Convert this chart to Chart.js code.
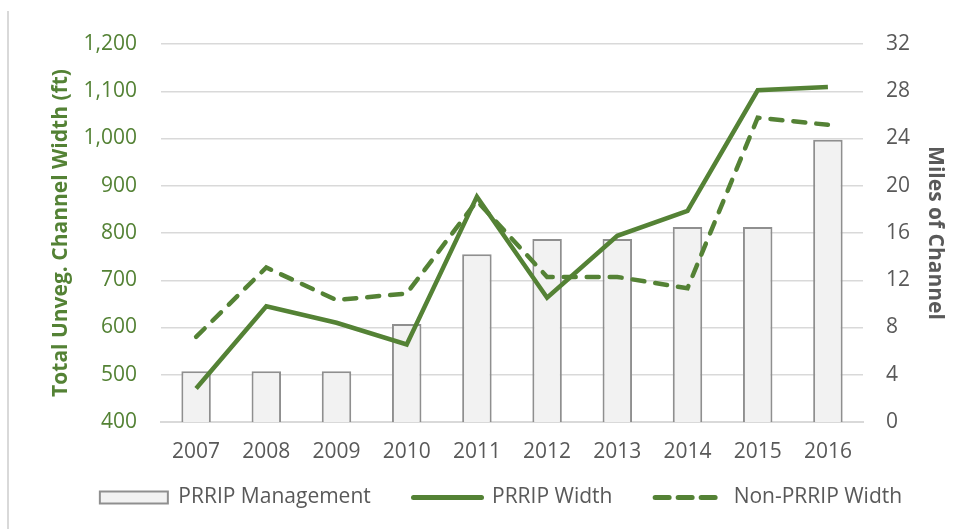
<!DOCTYPE html>
<html>
<head>
<meta charset="utf-8">
<script src="https://cdn.jsdelivr.net/npm/chart.js@4/dist/chart.umd.min.js"></script>
<style>
  html, body { margin: 0; padding: 0; background: #fff; }
  #wrap { position: relative; width: 972px; height: 529px; }
  #edge { position: absolute; left: 7px; top: 11px; width: 2px; bottom: 0; background: #d9d9d9; }
</style>
</head>
<body>
<div id="wrap">
  <div id="edge"></div>
  <canvas id="chart" width="972" height="529"></canvas>
</div>
<script>
const years = ['2007', '2008', '2009', '2010', '2011', '2012', '2013', '2014', '2015', '2016'];
// miles of channel under management (right axis)
const managementMiles = [4.3, 4.3, 4.3, 8.3, 14.2, 15.5, 15.5, 16.5, 16.5, 23.9];
// total unvegetated channel width, ft (left axis)
const prripWidth = [471, 645, 610, 564, 877, 663, 794, 847, 1102, 1109];
const nonPrripWidth = [580, 727, 658, 672, 868, 707, 707, 683, 1044, 1029];

const GREEN = '#548235';
const GREY_TEXT = '#595959';
const FONT = '"Open Sans", "Noto Sans", sans-serif';
const FS = 21;

const ctx = document.getElementById('chart').getContext('2d');

// legend: keep dataset order, put the dash back on the dashed line, widen gaps
function legendLabels(chart) {
    const items = Chart.defaults.plugins.legend.labels.generateLabels(chart);
    items.sort((a, b) => a.datasetIndex - b.datasetIndex);
    items.forEach((item, i) => {
        const ds = chart.data.datasets[item.datasetIndex];
        if (ds.type === 'line') {
            item.lineWidth = 5;
            item.lineCap = 'round';
            item.lineDash = ds.borderDash ? [14, 9] : [];
        }
        if (i < items.length - 1) {
            item.text = item.text + '      ';
        }
    });
    return items;
}

new Chart(ctx, {
    data: {
        labels: years,
        datasets: [
            {
                type: 'bar',
                label: 'PRRIP Management',
                data: managementMiles,
                yAxisID: 'yRight',
                backgroundColor: '#f2f2f2',
                borderColor: '#8f8f8f',
                borderWidth: 2,
                barPercentage: 0.42,
                categoryPercentage: 1,
                pointStyle: 'rect',
                order: 2
            },
            {
                type: 'line',
                label: 'PRRIP Width',
                data: prripWidth,
                yAxisID: 'yLeft',
                borderColor: GREEN,
                backgroundColor: GREEN,
                borderWidth: 4.5,
                pointRadius: 0,
                pointStyle: 'line',
                tension: 0,
                order: 1
            },
            {
                type: 'line',
                label: 'Non-PRRIP Width',
                data: nonPrripWidth,
                yAxisID: 'yLeft',
                borderColor: GREEN,
                backgroundColor: GREEN,
                borderWidth: 4.5,
                borderDash: [12, 11],
                borderCapStyle: 'round',
                pointRadius: 0,
                pointStyle: 'line',
                tension: 0,
                order: 1
            }
        ]
    },
    options: {
        responsive: false,
        animation: false,
        layout: { padding: { top: 44, bottom: 11, left: 30, right: 0 } },
        plugins: {
            tooltip: { enabled: false },
            legend: {
                position: 'bottom',
                labels: {
                    usePointStyle: true,
                    pointStyleWidth: 68,
                    boxHeight: 12,
                    padding: 10,
                    color: GREY_TEXT,
                    font: { family: FONT, size: FS },
                    generateLabels: legendLabels
                }
            }
        },
        scales: {
            x: {
                grid: { display: false, drawTicks: false },
                border: { color: '#d9d9d9', width: 2 },
                ticks: { color: GREY_TEXT, padding: 17, font: { family: FONT, size: FS } },
                afterFit: (scale) => { scale.height = 55; }
            },
            yLeft: {
                position: 'left',
                min: 400,
                max: 1200,
                grid: { color: '#d9d9d9', lineWidth: 1.5, drawTicks: false },
                border: { display: false },
                ticks: {
                    stepSize: 100,
                    padding: 24,
                    color: GREEN,
                    font: { family: FONT, size: FS },
                    callback: (v) => v.toLocaleString('en-US')
                },
                title: {
                    display: true,
                    text: 'Total Unveg. Channel Width (ft)',
                    color: GREEN,
                    font: { family: FONT, size: 21, weight: 'bold' },
                    padding: { top: 18, bottom: 0 }
                },
                afterFit: (scale) => { scale.width = 131; }
            },
            yRight: {
                position: 'right',
                min: 0,
                max: 32,
                grid: { display: false, drawTicks: false },
                border: { display: false },
                ticks: {
                    stepSize: 4,
                    padding: 23,
                    color: GREY_TEXT,
                    font: { family: FONT, size: FS }
                },
                title: {
                    display: true,
                    text: 'Miles of Channel',
                    color: GREY_TEXT,
                    font: { family: FONT, size: 21, weight: 'bold' },
                    padding: { top: 24, bottom: 0 }
                },
                afterFit: (scale) => { scale.width = 109; }
            }
        }
    }
});
</script>
</body>
</html>
